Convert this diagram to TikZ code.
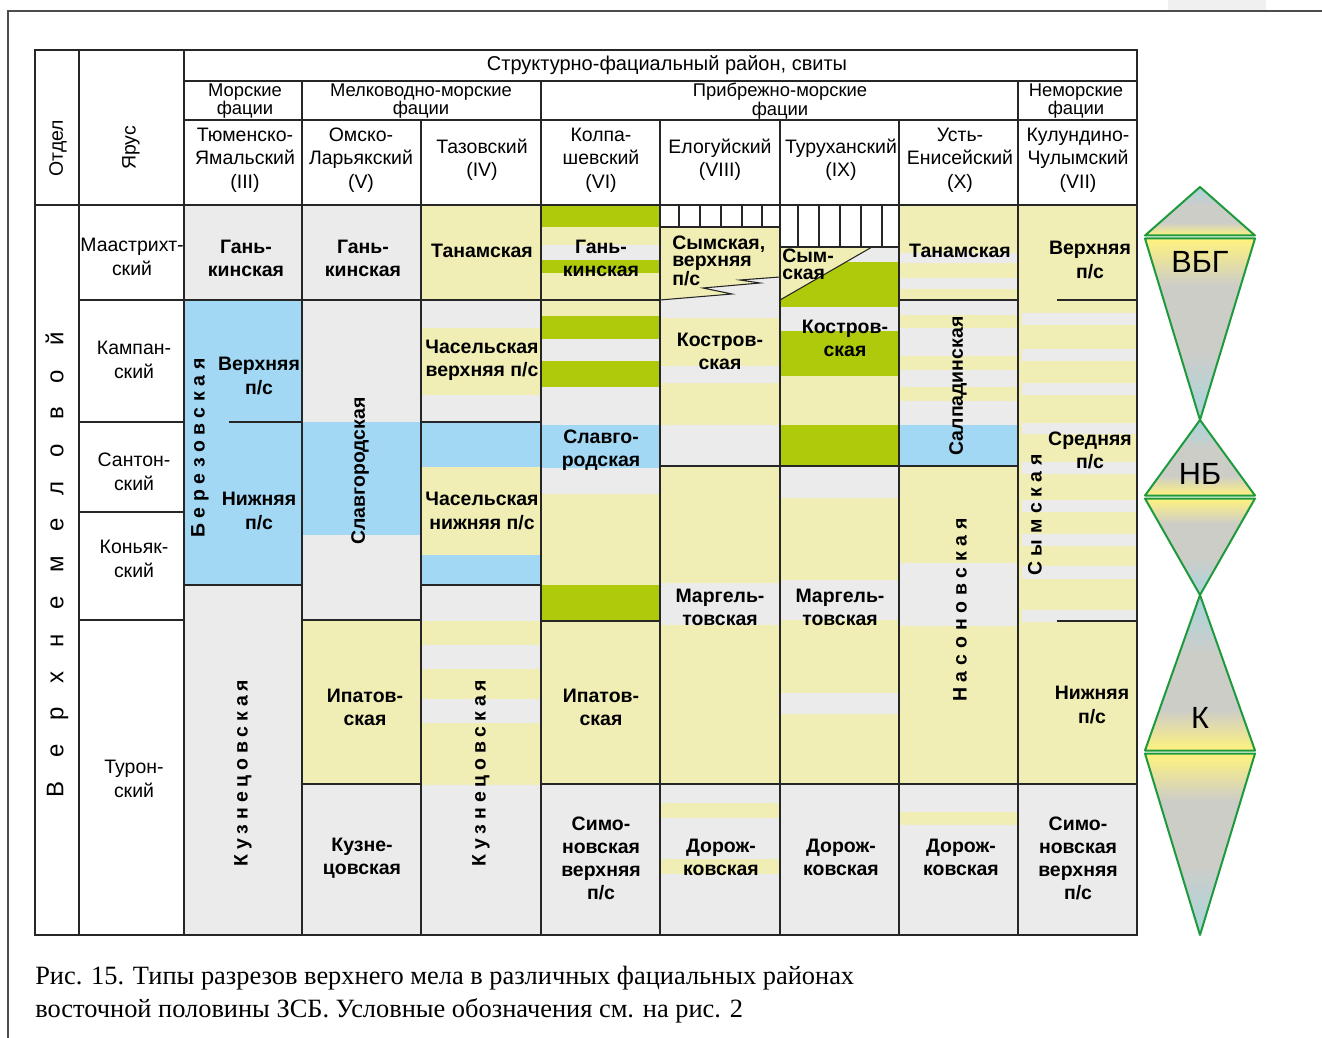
\documentclass[tikz,border=0pt]{standalone}
\usepackage{fontspec}
\setmainfont{Liberation Sans}
\newfontfamily\capfont{Liberation Serif}
\definecolor{gy}{HTML}{EBEBEB}
\definecolor{ye}{HTML}{F0EEB4}
\definecolor{bl}{HTML}{A3D8F4}
\definecolor{gn}{HTML}{AFCA0A}
\definecolor{dgreen}{HTML}{1E9A3C}
\definecolor{tipc}{HTML}{A9D5DD}
\definecolor{midc}{HTML}{CDCDC8}
\definecolor{widec}{HTML}{FFF27E}
\pgfdeclareverticalshading{tipup}{100bp}{color(0bp)=(widec); color(25bp)=(widec); color(38bp)=(midc); color(56bp)=(midc); color(75bp)=(tipc); color(100bp)=(tipc)}
\pgfdeclareverticalshading{tipdown}{100bp}{color(0bp)=(tipc); color(25bp)=(tipc); color(44bp)=(midc); color(62bp)=(midc); color(75bp)=(widec); color(100bp)=(widec)}
\newcommand\bnd[5]{\fill[#1] (#2,#3) rectangle (#4,#5);}
\newcommand\spc[2]{{\addfontfeature{LetterSpace=#1}#2}}
\begin{document}
\begin{tikzpicture}[x=0.75pt,y=-0.75pt,
  grid/.style={draw=black!85,line width=0.8pt},
  hdr/.style={font=\fontsize{14.6}{17.6}\selectfont,align=center,inner sep=0pt},
  fac/.style={font=\fontsize{13.8}{11.3}\selectfont,align=center,inner sep=0pt},
  cell/.style={font=\fontsize{14.6}{17.3}\selectfont\bfseries,align=center,inner sep=0pt},
  tight/.style={font=\fontsize{14.6}{12.8}\selectfont\bfseries,align=left,inner sep=0pt,anchor=west},
  rot/.style={font=\fontsize{14.6}{17.3}\selectfont\bfseries,rotate=90,inner sep=0pt},
  dia/.style={draw=dgreen,line width=1.5pt,line join=round},
  dlab/.style={font=\fontsize{23}{23}\selectfont,inner sep=0pt}]
\useasboundingbox (0,0) rectangle (1322,1038);
% page frame
\fill[black!6] (1168,0) rectangle (1266,10);
\draw[black!70,line width=1pt] (1322,11) -- (8,11) -- (8,1038);
% ---------- fills ----------
% III
\bnd{gy}{184}{205}{302}{300}
\bnd{bl}{184}{300}{302}{585}
\bnd{gy}{184}{585}{302}{935}
% V
\bnd{gy}{302}{205}{421}{422}
\bnd{bl}{302}{422}{421}{535}
\bnd{gy}{302}{535}{421}{620}
\bnd{ye}{302}{620}{421}{784}
\bnd{gy}{302}{784}{421}{935}
% IV
\bnd{ye}{421}{205}{541}{300}
\bnd{gy}{421}{300}{541}{328}
\bnd{ye}{421}{328}{541}{395}
\bnd{gy}{421}{395}{541}{422}
\bnd{bl}{421}{422}{541}{467}
\bnd{ye}{421}{467}{541}{555}
\bnd{bl}{421}{555}{541}{585}
\bnd{gy}{421}{585}{541}{621}
\bnd{ye}{421}{621}{541}{645}
\bnd{gy}{421}{645}{541}{669}
\bnd{ye}{421}{669}{541}{699}
\bnd{gy}{421}{699}{541}{723}
\bnd{ye}{421}{723}{541}{785}
\bnd{gy}{421}{785}{541}{935}
% VI
\bnd{gn}{541}{205}{660}{227}
\bnd{ye}{541}{227}{660}{245}
\bnd{gy}{541}{245}{660}{260}
\bnd{gn}{541}{260}{660}{273}
\bnd{ye}{541}{273}{660}{316}
\bnd{gn}{541}{316}{660}{339}
\bnd{gy}{541}{339}{660}{361}
\bnd{gn}{541}{361}{660}{387}
\bnd{gy}{541}{387}{660}{425}
\bnd{bl}{541}{425}{660}{468}
\bnd{gy}{541}{468}{660}{494}
\bnd{ye}{541}{494}{660}{585}
\bnd{gn}{541}{585}{660}{621}
\bnd{ye}{541}{621}{660}{784}
\bnd{gy}{541}{784}{660}{935}
% VIII
\bnd{gy}{660}{227}{780}{318}
\fill[ye] (660,227) -- (780,227) -- (780,277) -- (740,280) -- (760,283) -- (703,288) -- (732,294) -- (660,300) -- cycle;
\bnd{ye}{660}{318}{780}{366}
\bnd{gy}{660}{366}{780}{383}
\bnd{ye}{660}{383}{780}{425}
\bnd{gy}{660}{425}{780}{466}
\bnd{ye}{660}{466}{780}{583}
\bnd{gy}{660}{583}{780}{625}
\bnd{ye}{660}{625}{780}{784}
\bnd{gy}{660}{784}{780}{803}
\bnd{ye}{660}{803}{780}{818}
\bnd{gy}{660}{818}{780}{859}
\bnd{ye}{660}{859}{780}{874}
\bnd{gy}{660}{874}{780}{935}
% IX
\bnd{gy}{780}{247}{899}{262}
\bnd{gn}{780}{262}{899}{307}
\fill[ye] (780,247) -- (872,247) -- (780,300) -- cycle;
\bnd{gy}{780}{307}{899}{331}
\bnd{gn}{780}{331}{899}{376}
\bnd{ye}{780}{376}{899}{425}
\bnd{gn}{780}{425}{899}{466}
\bnd{gy}{780}{466}{899}{498}
\bnd{ye}{780}{498}{899}{580}
\bnd{gy}{780}{580}{899}{620}
\bnd{ye}{780}{620}{899}{693}
\bnd{gy}{780}{693}{899}{714}
\bnd{ye}{780}{714}{899}{784}
\bnd{gy}{780}{784}{899}{935}
% X
\bnd{ye}{899}{205}{1018}{253}
\bnd{gy}{899}{253}{1018}{263}
\bnd{ye}{899}{263}{1018}{278}
\bnd{gy}{899}{278}{1018}{289}
\bnd{ye}{899}{289}{1018}{300}
\bnd{gy}{899}{300}{1018}{315}
\bnd{ye}{899}{315}{1018}{328}
\bnd{gy}{899}{328}{1018}{356}
\bnd{ye}{899}{356}{1018}{370}
\bnd{gy}{899}{370}{1018}{387}
\bnd{ye}{899}{387}{1018}{401}
\bnd{gy}{899}{401}{1018}{425}
\bnd{bl}{899}{425}{1018}{466}
\bnd{ye}{899}{466}{1018}{563}
\bnd{gy}{899}{563}{1018}{626}
\bnd{ye}{899}{626}{1018}{784}
\bnd{gy}{899}{784}{1018}{812}
\bnd{ye}{899}{812}{1018}{825}
\bnd{gy}{899}{825}{1018}{935}
% VII
\bnd{ye}{1018}{205}{1137}{784}
\foreach \a/\b in {313/325,349/361,383/395,423/434,462/474,500/512,534/546,566/579,610/622}
  {\bnd{gy}{1022}{\a}{1137}{\b}}
\bnd{gy}{1018}{784}{1137}{935}
% ---------- grid ----------
\draw[grid] (35,50) rectangle (1137,935);
\draw[grid] (184,81) -- (1137,81) (184,120) -- (1137,120) (35,205) -- (1137,205);
\draw[grid] (79,50) -- (79,935) (184,50) -- (184,935);
\foreach \x in {302,541,1018} {\draw[grid] (\x,81) -- (\x,935);}
\foreach \x in {421,660,780,899} {\draw[grid] (\x,120) -- (\x,935);}
\draw[grid] (79,300) -- (660,300) (899,300) -- (1018,300) (1057,300) -- (1137,300);
\draw[grid] (79,422) -- (184,422) (229,422) -- (302,422) (421,422) -- (541,422);
\draw[grid] (79,512) -- (184,512);
\draw[grid] (184,585) -- (302,585) (421,585) -- (541,585);
\draw[grid] (79,620) -- (184,620) (302,620) -- (421,620) (541,621) -- (660,621) (1057,621) -- (1137,621);
\draw[grid] (302,784) -- (421,784) (541,784) -- (1137,784);
\draw[grid] (660,466) -- (1018,466);
\draw[grid] (660,227) -- (780,227) (780,247) -- (899,247);
\foreach \x in {679,700,721,742,762} {\draw[grid] (\x,205) -- (\x,227);}
\foreach \x in {798,819,840,861,882} {\draw[grid] (\x,205) -- (\x,247);}
\draw[grid] (780,277) -- (740,280) -- (760,283) -- (703,288) -- (732,294) -- (660,300);
\draw[grid] (872,247) -- (780,300);
% ---------- header text ----------
\node[hdr,font=\fontsize{15}{17.6}\selectfont] (title) at (667,65) {Структурно-фациальный район, свиты};
\node[hdr,rotate=90] (otdel) at (58,148) {Отдел};
\node[hdr,rotate=90] (yarus) at (131,148) {Ярус};
\node[fac] (f1) at (245,101) {Морские\\фации};
\node[fac] (f2) at (421,101) {Мелководно-морские\\фации};
\node[fac] (f3) at (780,101) {Прибрежно-морские\\фации};
\node[fac] (f4) at (1076,101) {Неморские\\фации};
\node[hdr] (d3) at (245,160) {Тюменско-\\Ямальский\\(III)};
\node[hdr] (d5) at (361,160) {Омско-\\Ларьякский\\(V)};
\node[hdr] (d4) at (482,160) {Тазовский\\(IV)};
\node[hdr] (d6) at (601,160) {Колпа-\\шевский\\(VI)};
\node[hdr] (d8) at (720,160) {Елогуйский\\(VIII)};
\node[hdr] (d9) at (841,160) {Туруханский\\(IX)};
\node[hdr] (d10) at (960,160) {Усть-\\Енисейский\\(X)};
\node[hdr] (d7) at (1078,160) {Кулундино-\\Чулымский\\(VII)};
% stages
\node[hdr] (s1) at (132,257) {Маастрихт-\\ский};
\node[hdr] (s2) at (134,360) {Кампан-\\ский};
\node[hdr] (s3) at (134,472) {Сантон-\\ский};
\node[hdr] (s4) at (134,559) {Коньяк-\\ский};
\node[hdr] (s5) at (134,779) {Турон-\\ский};
\node[font=\fontsize{18}{18}\selectfont,rotate=90,inner sep=0pt] (otd) at (57,565) {\spc{100}{Верхнемеловой}};
% ---------- cell text ----------
\node[cell] (c3a) at (246,258) {Гань-\\кинская};
\node[rot] (c3b) at (200,448) {\spc{29}{Березовская}};
\node[cell] (c3c) at (259,376) {Верхняя\\п/с};
\node[cell] (c3d) at (259,511) {Нижняя\\п/с};
\node[rot] (c3e) at (243,773) {\spc{25}{Кузнецовская}};
\node[cell] (c5a) at (363,258) {Гань-\\кинская};
\node[rot] (c5b) at (360,471) {Славгородская};
\node[cell] (c5c) at (365,707) {Ипатов-\\ская};
\node[cell] (c5d) at (362,858) {Кузне-\\цовская};
\node[cell] (c4a) at (482,251) {Танамская};
\node[cell] (c4b) at (482,360) {Часельская\\верхняя п/с};
\node[cell] (c4c) at (482,511) {Часельская\\нижняя п/с};
\node[rot] (c4d) at (481,773) {\spc{25}{Кузнецовская}};
\node[cell] (c6a) at (601,258) {Гань-\\кинская};
\node[cell] (c6b) at (601,450) {Славго-\\родская};
\node[cell] (c6c) at (601,707) {Ипатов-\\ская};
\node[cell] (c6d) at (601,858) {Симо-\\новская\\верхняя\\п/с};
\node[tight] (c8a) at (672,261) {Сымская,\\верхняя\\п/с};
\node[cell] (c8b) at (720,351) {Костров-\\ская};
\node[cell] (c8c) at (720,607) {Маргель-\\товская};
\node[cell] (c8d) at (721,857) {Дорож-\\ковская};
\node[tight] (c9a) at (782,264) {Сым-\\ская};
\node[cell] (c9b) at (845,338) {Костров-\\ская};
\node[cell] (c9c) at (840,607) {Маргель-\\товская};
\node[cell] (c9d) at (841,857) {Дорож-\\ковская};
\node[cell] (c10a) at (960,251) {Танамская};
\node[rot] (c10b) at (958,386) {Салпадинская};
\node[rot] (c10c) at (960,610) {\spc{30}{Насоновская}};
\node[cell] (c10d) at (961,857) {Дорож-\\ковская};
\node[cell] (c7a) at (1090,260) {Верхняя\\п/с};
\node[cell] (c7b) at (1090,450) {Средняя\\п/с};
\node[cell] (c7c) at (1092,705) {Нижняя\\п/с};
\node[rot] (c7d) at (1035,515) {\spc{29}{Сымская}};
\node[cell] (c7e) at (1078,858) {Симо-\\новская\\верхняя\\п/с};
% ---------- diamonds ----------
\path[dia,shading=tipup] (1200,187) -- (1255,235.5) -- (1145,235.5) -- cycle;
\path[dia,shading=tipdown] (1145,238.5) -- (1255,238.5) -- (1200,420) -- cycle;
\path[dia,shading=tipup] (1200,420) -- (1255,495.5) -- (1145,495.5) -- cycle;
\path[dia,shading=tipdown] (1145,498.5) -- (1255,498.5) -- (1200,595) -- cycle;
\path[dia,shading=tipup] (1200,595) -- (1255,750.5) -- (1145,750.5) -- cycle;
\path[dia,shading=tipdown] (1145,753.5) -- (1255,753.5) -- (1200,935) -- cycle;
\node[dlab] (vbg) at (1200,262) {ВБГ};
\node[dlab] (nb) at (1200,474) {НБ};
\node[dlab] (kk) at (1200,718) {К};
% ---------- caption ----------
\node[font=\capfont\fontsize{19.8}{24.6}\selectfont,align=left,anchor=north west,inner sep=0pt] (cap) at (35,966)
  {Рис. 15. Типы разрезов верхнего мела в различных фациальных районах\\восточной половины ЗСБ. Условные обозначения см. на рис. 2};
\end{tikzpicture}
\end{document}
